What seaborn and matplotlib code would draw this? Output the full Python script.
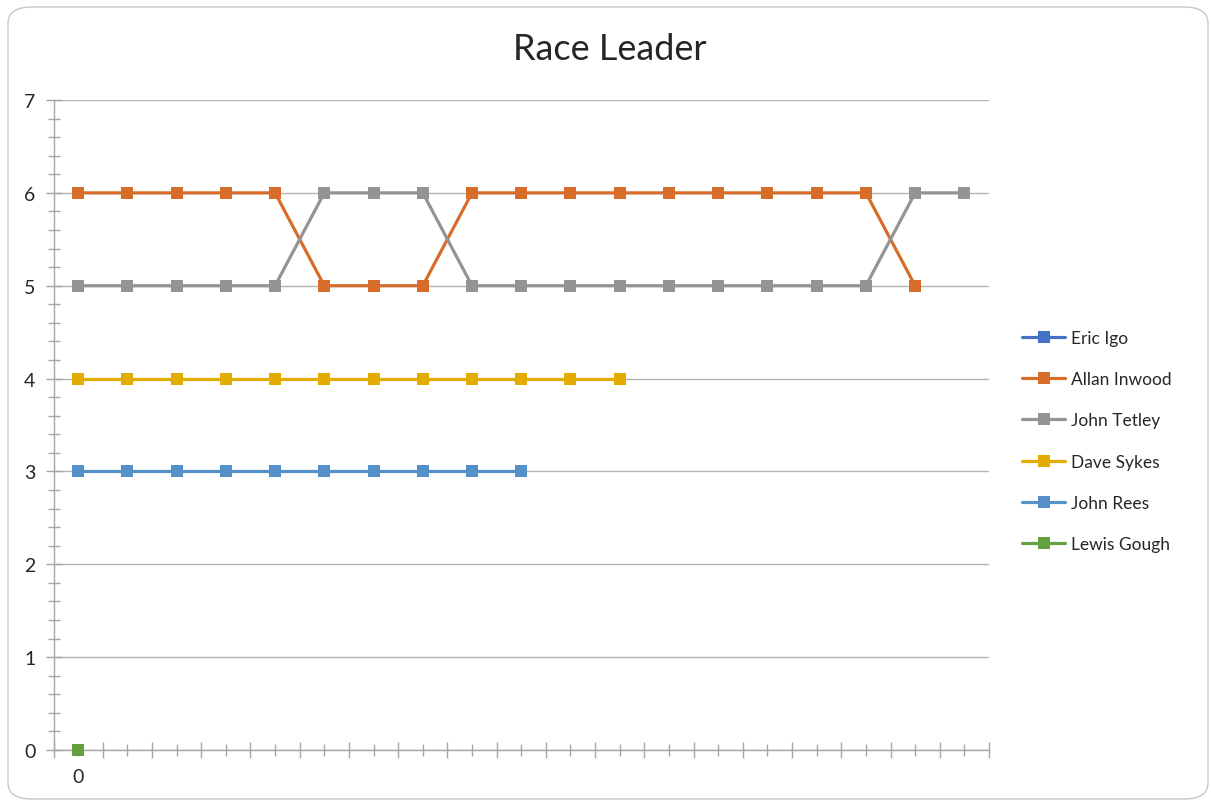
import numpy as np
import pandas as pd
import matplotlib
matplotlib.use("Agg")
import matplotlib.pyplot as plt
import seaborn as sns
from matplotlib.lines import Line2D
from matplotlib.patches import FancyBboxPatch

# race positions per lap (index = lap number, empty = no data)
names = ['Eric Igo', 'Allan Inwood', 'John Tetley', 'Dave Sykes', 'John Rees', 'Lewis Gough']
eric_igo = []
allan_inwood = [6, 6, 6, 6, 6, 5, 5, 5, 6, 6, 6, 6, 6, 6, 6, 6, 6, 5]
john_tetley = [5, 5, 5, 5, 5, 6, 6, 6, 5, 5, 5, 5, 5, 5, 5, 5, 5, 6, 6]
dave_sykes = [4, 4, 4, 4, 4, 4, 4, 4, 4, 4, 4, 4]
john_rees = [3, 3, 3, 3, 3, 3, 3, 3, 3, 3]
lewis_gough = [0]
n_laps = 19
x_labels = ['0'] + [''] * (n_laps - 1)

colors = ['#4472C4', '#D86D2B', '#949494', '#E2AC00', '#5590C8', '#64A03F']
series = [eric_igo, allan_inwood, john_tetley, dave_sykes, john_rees, lewis_gough]

sns.set_style('white')
plt.rcParams['font.family'] = ['Lato', 'DejaVu Sans']

fig = plt.figure(figsize=(12.11, 8.03), dpi=100)
ax = fig.add_axes([53.5 / 1211, 1 - 751 / 803, (989 - 53.5) / 1211, (751 - 101) / 803])

# rounded chart border
border = FancyBboxPatch((8 / 1211, 3 / 803), 1200 / 1211, 792 / 803,
                        boxstyle='round,pad=0,rounding_size=0.02',
                        transform=fig.transFigure, facecolor='none',
                        edgecolor='#C8C8C8', lw=1, zorder=0)
fig.patches.append(border)

handles = []
for name, vals, col in zip(names, series, colors):
    if len(vals) > 0:
        df = pd.DataFrame({'lap': np.arange(len(vals)), 'pos': vals})
        sns.lineplot(data=df, x='lap', y='pos', ax=ax, color=col, marker='s',
                     markersize=8, markeredgewidth=0, linewidth=2.3,
                     clip_on=False, zorder=3)
    handles.append(Line2D([0], [0], color=col, lw=2.3, marker='s',
                          markersize=8, markeredgewidth=0))

ax.set_xlim(-0.5, n_laps - 0.5)
ax.set_ylim(0, 7)
ax.set_xlabel('')
ax.set_ylabel('')

ax.set_yticks(range(8))
ax.set_yticks(np.arange(0, 7.01, 0.2), minor=True)
ax.set_xticks(np.arange(-0.5, n_laps, 1))
ax.set_xticklabels([])
ax.set_xticks(range(n_laps), minor=True)
ax.set_xticklabels(x_labels, minor=True)

ax.yaxis.grid(True, color='#B4B4B4', lw=1)
ax.xaxis.grid(False)
for s in ['top', 'right']:
    ax.spines[s].set_visible(False)
for s in ['left', 'bottom']:
    ax.spines[s].set_color('#A6A6A6')
    ax.spines[s].set_linewidth(1)

ax.tick_params(axis='both', which='both', direction='inout', color='#A6A6A6',
               bottom=True, left=True)
ax.tick_params(axis='y', which='major', length=12, width=1, labelsize=14, pad=7)
ax.tick_params(axis='y', which='minor', length=8, width=1)
ax.tick_params(axis='x', which='major', length=11, width=1)
ax.tick_params(axis='x', which='minor', length=8, width=1, labelsize=14, pad=9)

fig.suptitle('Race Leader', x=610 / 1211, y=1 - 50 / 803, va='center', fontsize=26)

fig.legend(handles, names, loc='center left', bbox_to_anchor=(1022 / 1211, 1 - 442 / 803),
           frameon=False, fontsize=12.5, handlelength=2.5, handletextpad=0.3,
           labelspacing=1.45, borderaxespad=0, borderpad=0)

fig.savefig('out.png', dpi=100)
